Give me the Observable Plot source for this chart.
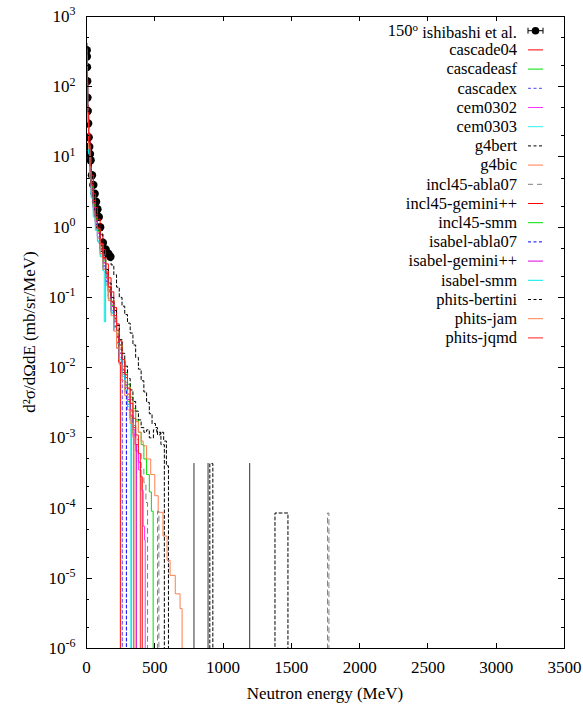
<!DOCTYPE html>
<html><head><meta charset="utf-8">
<script src="https://cdn.jsdelivr.net/npm/d3@7"></script>
<script src="https://cdn.jsdelivr.net/npm/@observablehq/plot@0.6"></script>
<style>
body{margin:0;background:#fff;}
#wrap{width:583px;height:709px;}
#wrap svg, #wrap svg text, #wrap svg tspan { font-family: "Liberation Serif", "Times New Roman", "DejaVu Serif", serif !important; }
</style></head><body><div id="wrap"></div>
<script>
// ---------- data ----------
const FLOOR = 1e-7; // zero counts (drawn below the frame and clipped)
const expEnergy = [1.5, 2.5, 3.5, 5, 7, 9, 12, 16, 20, 25, 30, 40, 50, 60, 70, 80, 90, 100, 120, 140, 160, 175];
const expValue  = [330, 270, 190, 120, 70, 45, 30, 19, 14, 11, 9, 5.5, 4, 3, 2.3, 1.8, 1.4, 1.0, 0.6, 0.48, 0.42, 0.38];

const cascade04 = [[0,420],[4,160],[8,55],[15,22],[25,10],[35,5.5],[50,3.0],[65,1.9],[80,1.3],[100,0.78],[120,0.48],[140,0.3],[160,0.19],[180,0.12],[200,0.072],[220,0.042],[240,0.024],[260,0.013],[280,0.0072],[300,0.0042],[320,0.0025],[340,0.0014],[360,8e-4],[380,4.5e-4],[395,2.8e-4],[408,0]];
const cascadeasf = [[0,300],[4,110],[8,38],[15,15],[25,7],[35,3.8],[50,2.1],[65,1.35],[80,0.92],[100,0.56],[120,0.35],[140,0.22],[160,0.14],[180,0.088],[200,0.055],[220,0.034],[240,0.021],[260,0.013],[280,0.0085],[300,0.0058],[320,0.0038],[340,0.0026],[360,0.0018],[380,0.0012],[400,8e-4],[420,5e-4],[440,3e-4],[460,1.7e-4],[475,9e-5],[488,0]];
const cascadex = [[0,260],[4,95],[8,32],[15,12],[25,5.5],[35,3.0],[50,1.7],[65,1.05],[80,0.7],[100,0.42],[120,0.26],[140,0.16],[160,0.1],[180,0.06],[200,0.034],[220,0.019],[240,0.011],[262,0]];
const cem0302 = [[0,330],[4,120],[8,42],[15,16],[25,7.5],[35,4],[50,2.2],[65,1.4],[80,0.95],[100,0.57],[120,0.34],[140,0.21],[160,0.13],[180,0.08],[200,0.048],[220,0.028],[240,0.016],[260,0.0092],[280,0.0052],[300,0.003],[320,0.0018],[340,0.0011],[360,6.5e-4],[380,3.5e-4],[400,1.8e-4],[415,5.5e-5],[425,3.5e-5],[430,0]];
const cem0303 = [[0,280],[4,100],[8,33],[15,12],[25,5.2],[35,2.7],[50,1.5],[65,0.95],[80,0.65],[100,0.4],[120,0.25],[140,0.155],[160,0.098],[180,0.062],[200,0.038],[220,0.022],[240,0.013],[260,0.0075],[280,0.0045],[300,0.0028],[324,0]];
const g4bert = [[0,380],[4,140],[8,48],[15,18],[25,8],[35,4.3],[50,2.4],[65,1.55],[80,1.1],[100,0.8],[120,0.6],[140,0.47],[160,0.37],[180,0.29],[200,0.21],[220,0.14],[240,0.1],[260,0.075],[280,0.057],[300,0.043],[320,0.031],[340,0.021],[360,0.014],[380,0.0095],[400,0.0065],[420,0.0045],[440,0.0032],[460,0.0022],[480,0.0016],[505,0.0014],[520,0.0011],[540,0.0012],[565,9e-4],[585,4e-4],[600,0]];
const g4bic = [[0,300],[4,110],[8,37],[15,14],[25,6.5],[35,3.4],[50,1.9],[65,1.2],[80,0.85],[100,0.5],[120,0.31],[140,0.19],[160,0.12],[180,0.075],[200,0.048],[220,0.03],[240,0.019],[260,0.012],[280,0.0078],[300,0.0052],[320,0.0035],[340,0.0024],[360,0.0017],[380,0.0012],[400,9e-4],[415,7.7e-4],[440,5e-4],[470,3e-4],[500,1.5e-4],[525,8.7e-5],[560,4e-5],[590,1.8e-5],[612,1.1e-5],[650,6e-6],[685,3.7e-6],[700,0]];
const incl45abla07 = [[0,340],[4,125],[8,43],[15,16],[25,7.5],[35,4],[50,2.2],[65,1.4],[80,0.96],[100,0.58],[120,0.36],[140,0.22],[160,0.14],[180,0.086],[200,0.052],[220,0.031],[240,0.018],[260,0.0105],[280,0.0062],[300,0.0038],[320,0.0024],[340,0.0015],[360,9.5e-4],[380,6e-4],[400,3.8e-4],[420,2.3e-4],[435,1.2e-4],[447,0],[520,9e-5],[530,0],[1765,8.5e-5],[1775,0]];
const incl45gemini = [[0,360],[4,130],[8,45],[15,17],[25,8],[35,4.3],[50,2.4],[65,1.5],[80,1.0],[100,0.6],[120,0.37],[140,0.23],[160,0.14],[180,0.085],[200,0.05],[220,0.028],[235,0.012],[248,0]];
const incl45smm = [[0,320],[4,115],[8,40],[15,15],[25,7],[35,3.7],[50,2.0],[65,1.3],[80,0.88],[100,0.53],[120,0.33],[140,0.2],[160,0.125],[180,0.077],[200,0.046],[220,0.027],[240,0.016],[260,0.0093],[280,0.0055],[300,0.0033],[320,0.002],[335,0.0012],[345,0]];
const isabelabla07 = [[0,270],[4,100],[8,34],[15,13],[25,6],[35,3.2],[50,1.8],[65,1.1],[80,0.74],[100,0.45],[120,0.28],[140,0.17],[160,0.105],[180,0.065],[200,0.039],[220,0.023],[240,0.014],[260,0.0085],[280,0.005],[292,0]];
const isabelgemini = [[0,300],[4,110],[8,37],[15,14],[25,6.5],[35,3.5],[50,1.9],[65,1.2],[80,0.82],[100,0.5],[120,0.31],[140,0.19],[160,0.12],[180,0.074],[200,0.045],[220,0.027],[240,0.016],[260,0.0095],[280,0.0057],[300,0.0035],[320,0.0021],[340,0.0013],[355,8e-4],[365,0]];
const isabelsmm = [[0,260],[4,95],[8,31],[15,11],[25,5],[35,2.6],[50,1.4],[65,0.9],[80,0.62],[100,0.38],[120,0.24],[130,0.045],[140,0.15],[160,0.095],[180,0.06],[200,0.037],[220,0.022],[240,0.013],[260,0.008],[280,0.0048],[300,0.003],[315,0.0019],[330,0]];
const phitsbertini = [[0,360],[4,130],[8,45],[15,17],[25,8],[35,4.2],[50,2.3],[65,1.45],[80,1.0],[100,0.62],[120,0.39],[140,0.25],[160,0.16],[180,0.1],[200,0.065],[220,0.04],[240,0.025],[260,0.016],[280,0.0105],[300,0.007],[320,0.0048],[340,0.0033],[360,0.0024],[380,0.0018],[400,0.0014],[420,0.0012],[440,0.0013],[460,0.001],[490,0.0013],[515,0.0012],[545,8e-4],[570,0],[903,4.3e-4],[925,0],[1380,8.5e-5],[1475,0]];
const phitsjam = [[0,290],[4,105],[8,35],[15,13],[25,6],[35,3.2],[50,1.7],[65,1.05],[80,0.7],[100,0.42],[120,0.25],[140,0.15],[160,0.09],[180,0.055],[200,0.033],[220,0.019],[240,0.011],[260,0.0065],[280,0.004],[300,0.0025],[320,0.0016],[340,0.001],[355,0]];
const phitsjqmd = [[0,350],[4,125],[8,43],[15,16],[25,7.5],[35,4],[50,2.2],[65,1.4],[80,0.95],[100,0.58],[120,0.36],[140,0.22],[160,0.14],[180,0.088],[200,0.055],[220,0.034],[240,0.021],[260,0.013],[280,0.008],[300,0.005],[320,0.0031],[340,0.0019],[360,0.0011],[380,6e-4],[394,0]];
// isolated single-event bins drawn as solid dark lines
const eventEnergy = [787, 890, 1195];
const eventValue = [4.3e-4, 4.3e-4, 4.3e-4];

const seriesNames = ["cascade04","cascadeasf","cascadex","cem0302","cem0303","g4bert","g4bic","incl45-abla07","incl45-gemini++","incl45-smm","isabel-abla07","isabel-gemini++","isabel-smm","phits-bertini","phits-jam","phits-jqmd"];
const seriesData = [cascade04,cascadeasf,cascadex,cem0302,cem0303,g4bert,g4bic,incl45abla07,incl45gemini,incl45smm,isabelabla07,isabelgemini,isabelsmm,phitsbertini,phitsjam,phitsjqmd];
const seriesColors = ["#ff0000","#00e000","#4d4dff","#ff33ff","#33f0f0","#000000","#ff7f50","#808080","#ff0000","#00e000","#0000ff","#dd00dd","#00e8e8","#000000","#ff7f50","#ff2020"];
const seriesDashes = [null,null,"3,2.5",null,null,"3,2.5",null,"5,4",null,null,"3,2.5",null,null,"3,2.5",null,null];
const expLabel = "ishibashi et al.";
const expAngle = "150";
const xLabel = "Neutron energy (MeV)";
const yLabel = "d\u00B2\u03C3/d\u03A9dE (mb/sr/MeV)";

const xTicks = [0,500,1000,1500,2000,2500,3000,3500];
const yTicks = [1e-6,1e-5,1e-4,1e-3,1e-2,1e-1,1,1e1,1e2,1e3];
const minorMult = [2,5];

// ---------- chart ----------
const FONT = "Liberation Serif, Times New Roman, serif";
const expRows = expEnergy.map((e,i)=>({e, v: expValue[i]}));

const simMarks = seriesData.map((d,i)=> Plot.line(d.map(([e,v])=>({e, v: v>0 ? v : FLOOR})), {
  x:"e", y:"v", curve:"step-after", stroke: seriesColors[i], strokeWidth: 1,
  strokeDasharray: seriesDashes[i] || undefined, clip: true
}));

const plot = Plot.plot({
  width: 583, height: 709,
  marginLeft: 86, marginRight: 19, marginTop: 16, marginBottom: 61,
  style: {fontFamily: FONT, fontSize: "17px", background: "white", color: "black"},
  x: {domain: [0,3500]},
  y: {type: "log", domain: [1e-6, 1e3]},
  marks: [
    Plot.dot(expRows, {x:"e", y:"v", r:4.2, fill:"black", clip:true}),
    ...simMarks,
    Plot.ruleX(eventEnergy.map((e,i)=>({e, v:eventValue[i]})), {x:"e", y1: FLOOR, y2:"v", stroke:"#333", strokeWidth:1, clip:true}),
    Plot.frame({stroke:"#000"}),
    Plot.axisX({ticks: xTicks, tickSize: 0, tickPadding: 12, tickFormat: d=>String(d), label: null, fontSize: 17}),
    Plot.axisY({ticks: yTicks, tickSize: 0, tickPadding: 11, tickFormat: d=>"E"+Math.round(Math.log10(d)), label: null, fontSize: 17})
  ]
});
document.getElementById("wrap").appendChild(plot);

const svg = d3.select(plot);
// superscript exponents on y tick labels
svg.selectAll("text").each(function(){
  const t = this.textContent;
  if (/^E-?\d+$/.test(t)) {
    const s = d3.select(this);
    s.text("10");
    s.append("tspan").attr("dy","-0.55em").attr("font-size","12px").text(t.slice(1));
  }
});

const L = 86, R = 583-19, T = 16, B = 709-61;
// axis titles
svg.append("text").attr("x",(L+R)/2).attr("y",B+45).attr("dy","0.35em").attr("text-anchor","middle")
  .attr("font-size",17).attr("fill","#000").text(xLabel);
svg.append("text").attr("transform",`translate(29,${(T+B)/2}) rotate(-90)`).attr("dy","0.35em")
  .attr("text-anchor","middle").attr("font-size",17).attr("fill","#000").text(yLabel);

// inward ticks on all four sides (gnuplot style)
const xs = plot.scale("x"), ys = plot.scale("y");
const tg = svg.append("g").attr("stroke","#000").attr("stroke-width",1).attr("fill","none");
for (const t of xTicks) {
  const px = Math.round(xs.apply(t))+0.5;
  tg.append("line").attr("x1",px).attr("x2",px).attr("y1",B).attr("y2",B-5);
  tg.append("line").attr("x1",px).attr("x2",px).attr("y1",T).attr("y2",T+5);
}
for (const t of yTicks) {
  const py = Math.round(ys.apply(t))+0.5;
  tg.append("line").attr("x1",L).attr("x2",L+6).attr("y1",py).attr("y2",py);
  tg.append("line").attr("x1",R).attr("x2",R-6).attr("y1",py).attr("y2",py);
  if (t < 1e3) for (const m of minorMult) {
    const pm = Math.round(ys.apply(t*m))+0.5;
    tg.append("line").attr("x1",L).attr("x2",L+3).attr("y1",pm).attr("y2",pm);
    tg.append("line").attr("x1",R).attr("x2",R-3).attr("y1",pm).attr("y2",pm);
  }
}

// key (inside, top right)
const kg = svg.append("g").attr("font-size", 16.5);
const rowY = i => 30.7 + 19.2*i;
const tx = 517, s1 = 528, s2 = 543;
{
  const y = rowY(0);
  const t = kg.append("text").attr("x",tx).attr("y",y).attr("dy","0.32em").attr("text-anchor","end");
  t.append("tspan").text(expAngle);
  t.append("tspan").attr("dy","-0.45em").attr("font-size","11px").text("o");
  t.append("tspan").attr("dy","0.45em").text(" " + expLabel);
  kg.append("line").attr("x1",s1).attr("x2",s2).attr("y1",y).attr("y2",y).attr("stroke","#000");
  kg.append("line").attr("x1",s1).attr("x2",s1).attr("y1",y-3).attr("y2",y+3).attr("stroke","#000");
  kg.append("line").attr("x1",s2).attr("x2",s2).attr("y1",y-3).attr("y2",y+3).attr("stroke","#000");
  kg.append("circle").attr("cx",(s1+s2)/2).attr("cy",y).attr("r",3.8).attr("fill","#000");
}
seriesNames.forEach((n,i)=>{
  const y = rowY(i+1);
  kg.append("text").attr("x",tx).attr("y",y).attr("dy","0.32em").attr("text-anchor","end").text(n);
  const ln = kg.append("line").attr("x1",s1).attr("x2",s2).attr("y1",y).attr("y2",y)
    .attr("stroke",seriesColors[i]).attr("stroke-width",1);
  if (seriesDashes[i]) ln.attr("stroke-dasharray",seriesDashes[i]);
});
</script>
</body></html>
